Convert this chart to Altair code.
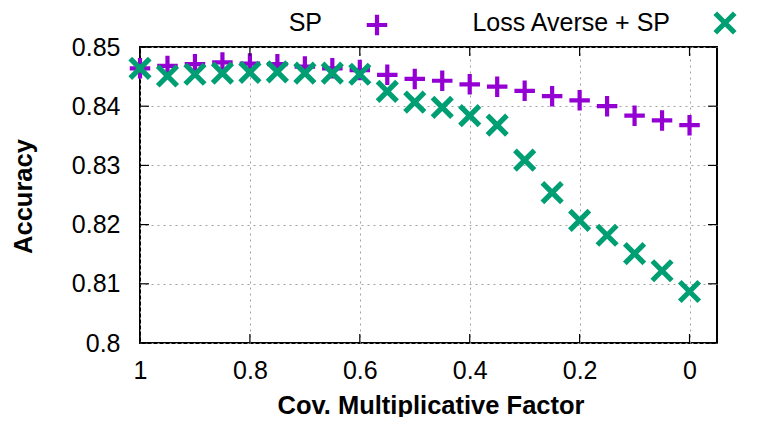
import altair as alt
import pandas as pd

factors = [1.0, 0.95, 0.9, 0.85, 0.8, 0.75, 0.7, 0.65, 0.6, 0.55, 0.5,
           0.45, 0.4, 0.35, 0.3, 0.25, 0.2, 0.15, 0.1, 0.05, 0.0]
sp_acc = [0.8464, 0.8468, 0.8471, 0.8474, 0.8472, 0.8471, 0.8467, 0.8464, 0.8461, 0.8453, 0.8446,
          0.8443, 0.8437, 0.8433, 0.8426, 0.8417, 0.8410, 0.8400, 0.8384, 0.8376, 0.8368]
la_sp_acc = [0.8464, 0.8451, 0.8454, 0.8456, 0.8457, 0.8458, 0.8456, 0.8456, 0.8454, 0.8425, 0.8407,
             0.8398, 0.8384, 0.8368, 0.8309, 0.8254, 0.8207, 0.8182, 0.8151, 0.8122, 0.8087]
series_names = ["SP", "Loss Averse + SP"]
x_ticks = [1.0, 0.8, 0.6, 0.4, 0.2, 0.0]
y_ticks = [0.80, 0.81, 0.82, 0.83, 0.84, 0.85]

W, H = 577, 296
FONT = "Liberation Sans"
PURPLE = "#9400D3"
GREEN = "#009E73"
PLUS = "M-1,0L1,0M0,-1L0,1"
CROSS = "M-1,-1L1,1M-1,1L1,-1"
TICK = 9
LABEL_FS = 25
TITLE_FS = 25.5

xscale = alt.Scale(domain=[-0.05, 1.0], reverse=True, nice=False, zero=False)
yscale = alt.Scale(domain=[0.80, 0.85], nice=False, zero=False)

df_sp = pd.DataFrame({"f": factors, "acc": sp_acc})
df_la = pd.DataFrame({"f": factors, "acc": la_sp_acc})
df_xt = pd.DataFrame({"v": x_ticks})
df_yt = pd.DataFrame({"v": y_ticks})

xaxis = alt.Axis(values=x_ticks, format="~g", title="Cov. Multiplicative Factor",
                 grid=True, gridDash=[2, 4], gridColor="#a0a0a0", gridWidth=1,
                 ticks=False, domain=False, labelPadding=15, labelFontSize=LABEL_FS,
                 labelFont=FONT, labelColor="black", titleFont=FONT, titleFontSize=TITLE_FS,
                 titleFontWeight="bold", titleColor="black", titleY=70,
                 titleBaseline="alphabetic", titleX=W / 2 + 2, labelFlush=False)
yaxis = alt.Axis(values=y_ticks, format=".2~f", title="Accuracy",
                 grid=True, gridDash=[2, 4], gridColor="#a0a0a0", gridWidth=1,
                 ticks=False, domain=False, labelPadding=20, labelFontSize=LABEL_FS,
                 labelFont=FONT, labelColor="black", titleFont=FONT, titleFontSize=TITLE_FS,
                 titleFontWeight="bold", titleColor="black", titleX=-109,
                 titleY=149, titleBaseline="alphabetic", titleAngle=-90, labelFlush=False)

sp = alt.Chart(df_sp).mark_point(shape=PLUS, size=420, filled=False, strokeWidth=4.2,
                                  color=PURPLE, opacity=1, strokeCap="butt").encode(
    x=alt.X("f:Q", scale=xscale, axis=xaxis),
    y=alt.Y("acc:Q", scale=yscale, axis=yaxis),
)
la = alt.Chart(df_la).mark_point(shape=CROSS, size=380, filled=False, strokeWidth=5.2,
                                  color=GREEN, opacity=1, strokeCap="butt").encode(
    x=alt.X("f:Q", scale=xscale),
    y=alt.Y("acc:Q", scale=yscale),
)

# inward tick marks (gnuplot style)
tick_style = dict(color="black", strokeWidth=1.2)
yt_left = alt.Chart(df_yt).mark_rule(**tick_style).encode(
    y=alt.Y("v:Q", scale=yscale), x=alt.value(0), x2=alt.value(TICK))
yt_right = alt.Chart(df_yt).mark_rule(**tick_style).encode(
    y=alt.Y("v:Q", scale=yscale), x=alt.value(W - TICK), x2=alt.value(W))
xt_bottom = alt.Chart(df_xt).mark_rule(**tick_style).encode(
    x=alt.X("v:Q", scale=xscale), y=alt.value(H - TICK), y2=alt.value(H))
xt_top = alt.Chart(df_xt).mark_rule(**tick_style).encode(
    x=alt.X("v:Q", scale=xscale), y=alt.value(0), y2=alt.value(TICK))

# legend (gnuplot style: label then symbol), above the plot
leg_df = pd.DataFrame({"name": series_names})
leg_txt1 = alt.Chart(leg_df.iloc[[0]]).mark_text(align="right", baseline="middle", font=FONT,
                                                  fontSize=LABEL_FS, color="black").encode(
    text="name:N", x=alt.value(182), y=alt.value(-24))
leg_sym1 = alt.Chart(leg_df.iloc[[0]]).mark_point(shape=PLUS, size=420, filled=False, strokeWidth=4.2,
                                                   color=PURPLE, opacity=1).encode(
    x=alt.value(237), y=alt.value(-22))
leg_txt2 = alt.Chart(leg_df.iloc[[1]]).mark_text(align="right", baseline="middle", font=FONT,
                                                  fontSize=LABEL_FS, color="black").encode(
    text="name:N", x=alt.value(530), y=alt.value(-24))
leg_sym2 = alt.Chart(leg_df.iloc[[1]]).mark_point(shape=CROSS, size=380, filled=False, strokeWidth=5.2,
                                                   color=GREEN, opacity=1).encode(
    x=alt.value(585), y=alt.value(-24))

chart = alt.layer(sp, la, yt_left, yt_right, xt_bottom, xt_top,
                  leg_txt1, leg_sym1, leg_txt2, leg_sym2).properties(
    width=W, height=H,
    padding={"left": 132, "top": 39, "right": 39, "bottom": 74},
    autosize=alt.AutoSizeParams(type="none"),
    background="white",
).configure_view(stroke="black", strokeWidth=2)

chart.save("out.html", embed_options={"renderer": "svg", "actions": False})
